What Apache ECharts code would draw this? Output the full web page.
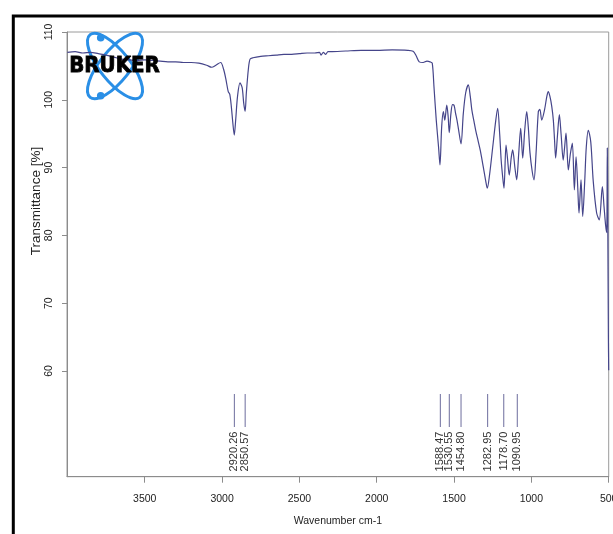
<!DOCTYPE html>
<html>
<head>
<meta charset="utf-8">
<script src="https://cdn.jsdelivr.net/npm/echarts@6/dist/echarts.min.js"></script>
<style>
  html, body { margin: 0; padding: 0; background: #fff; }
  #chart { width: 613px; height: 534px; }
</style>
</head>
<body>
<div id="chart"></div>
<script>
// FT-IR spectrum: wavenumber (cm-1) vs transmittance (%)
const wavenumber = [
  4000, 3950, 3900, 3850, 3800, 3750, 3700, 3650, 3600, 3550, 3500, 3450, 3400, 3350, 3300, 3250, 3200,
  3150, 3100, 3067, 3040, 3009, 2990, 2975, 2960, 2950, 2940, 2930, 2921, 2912, 2900, 2884, 2870, 2860,
  2851, 2843, 2830, 2819, 2800, 2750, 2700, 2650, 2600, 2550, 2500, 2450, 2400, 2370, 2360, 2345, 2330,
  2315, 2300, 2200, 2100, 2000, 1900, 1800, 1765, 1745, 1725, 1700, 1675, 1655, 1641, 1630, 1615, 1600,
  1591, 1580, 1569, 1560, 1547, 1538, 1531, 1520, 1510, 1500, 1490, 1481, 1470, 1455, 1440, 1425, 1408,
  1395, 1385, 1371, 1360, 1343, 1330, 1311, 1295, 1285, 1270, 1250, 1230, 1218, 1205, 1195, 1185, 1177,
  1164, 1155, 1143, 1130, 1121, 1106, 1095, 1082, 1069, 1056, 1043, 1030, 1020, 1009, 995, 983, 970,
  955, 945, 933, 915, 900, 891, 880, 868, 858, 850, 843, 832, 819, 808, 794, 785, 776, 761, 748, 735,
  722, 711, 700, 692, 679, 668, 655, 645, 632, 616, 600, 578, 561, 541, 530, 520, 513, 509, 505, 502, 500
];
const transmittance = [
  107.0, 107.1, 106.9, 107.0, 106.8, 106.6, 106.3, 106.0, 105.9, 105.8, 105.9, 105.8, 105.7, 105.6, 105.6, 105.5, 105.5,
  105.4, 105.1, 104.8, 105.1, 105.5, 104.5, 103.0, 101.2, 100.8, 99.0, 96.5, 94.8, 97.0, 100.5, 102.5, 101.8, 99.5,
  98.3, 101.0, 104.5, 106.0, 106.2, 106.4, 106.5, 106.6, 106.7, 106.7, 106.8, 106.9, 106.9, 107.0, 106.6, 107.0, 106.7,
  107.1, 107.1, 107.2, 107.3, 107.3, 107.35, 107.3, 107.15, 106.5, 105.6, 105.5, 105.7, 105.6, 105.4, 102.0, 97.0, 93.0,
  90.4, 96.0, 98.25, 97.0, 99.2, 97.5, 95.15, 98.0, 99.3, 99.2, 98.0, 97.0, 95.5, 93.5, 98.0, 101.0, 102.2,
  100.5, 98.5, 96.8, 95.5, 93.8, 92.5, 90.1, 88.0, 86.95, 89.0, 93.0, 97.0, 98.75, 95.0, 91.0, 88.5, 86.95,
  93.3, 91.5, 88.9, 91.5, 92.6, 89.9, 88.2, 92.0, 95.8, 91.4, 95.5, 98.25, 96.0, 92.2, 89.5, 88.2, 92.0,
  98.25, 98.6, 97.0, 98.5, 100.5, 101.2, 100.5, 99.0, 97.0, 94.0, 91.4, 94.5, 97.8, 95.0, 91.1, 93.0, 95.1, 89.65, 92.0, 93.6,
  86.7, 91.6, 87.0, 83.3, 88.2, 82.8, 88.0, 93.0, 95.5, 93.8, 88.0, 83.3, 82.3, 87.2, 84.2, 81.5, 80.4, 92.9, 78.0, 65.0, 60.1
];

// Picked peak positions (cm-1)
const peakPositions = [2920.26, 2850.57, 1588.47, 1530.55, 1454.80, 1282.95, 1178.70, 1090.95];
const peakLabels = ['2920.26', '2850.57', '1588.47', '1530.55', '1454.80', '1282.95', '1178.70', '1090.95'];

// Axis ticks
const xTicks = [500, 1000, 1500, 2000, 2500, 3000, 3500];
const yTicks = [60, 70, 80, 90, 100, 110];

const spectrum = wavenumber.map((w, i) => [w, transmittance[i]]);

const chart = echarts.init(document.getElementById('chart'), null, { renderer: 'canvas' });

const axisGray = '#8c8c8c';
const font = 'Liberation Sans, Arial, sans-serif';

chart.setOption({
  animation: false,
  backgroundColor: '#fff',
  grid: {
    left: 67, right: 4.3, top: 32, bottom: 57.3,
    containLabel: false,
    outerBoundsMode: 'none',
    show: true, borderColor: '#9a9a9a', borderWidth: 1
  },
  xAxis: {
    type: 'value',
    inverse: true,
    min: 500,
    max: 4002.6,
    name: 'Wavenumber cm-1',
    nameLocation: 'middle',
    nameGap: 39,
    nameTextStyle: { fontFamily: font, fontSize: 10.5, color: '#222' },
    axisLine: { lineStyle: { color: axisGray, width: 1 } },
    axisTick: { customValues: xTicks, length: 6, lineStyle: { color: axisGray } },
    axisLabel: {
      customValues: xTicks, margin: 17, fontFamily: font, fontSize: 10.5, color: '#222',
      formatter: v => String(v)
    },
    splitLine: { show: false }
  },
  yAxis: {
    type: 'value',
    min: 44.4,
    max: 110,
    axisLine: { show: true, lineStyle: { color: axisGray, width: 1 } },
    axisTick: { show: true, customValues: yTicks, length: 5, lineStyle: { color: axisGray } },
    axisLabel: {
      customValues: yTicks, rotate: 90, margin: 12, fontFamily: font, fontSize: 10.5, color: '#222',
      formatter: v => String(v)
    },
    splitLine: { show: false }
  },
  series: [
    {
      type: 'line',
      data: spectrum,
      showSymbol: false,
      smooth: 0.3,
      lineStyle: { color: '#45458a', width: 1.2 },
      z: 2
    },
    {
      type: 'custom',
      data: peakPositions.map((p, i) => [p, i]),
      renderItem: function (params, api) {
        const w = api.value(0);
        const idx = api.value(1);
        const top = api.coord([w, 56.6]);
        const bot = api.coord([w, 51.74]);
        const lab = api.coord([w, 51.05]);
        return {
          type: 'group',
          children: [
            {
              type: 'line',
              shape: { x1: top[0], y1: top[1], x2: bot[0], y2: bot[1] },
              style: { stroke: '#7a7aa6', lineWidth: 1.1 }
            },
            {
              type: 'text',
              x: lab[0], y: lab[1],
              rotation: Math.PI / 2,
              style: {
                text: peakLabels[idx],
                align: 'right', verticalAlign: 'middle',
                font: '11px ' + font,
                fill: '#333'
              }
            }
          ]
        };
      },
      z: 3
    }
  ],
  graphic: [
    // outer black frame
    {
      type: 'rect', z: 50,
      shape: { x: 13.3, y: 16, width: 640, height: 560 },
      style: { fill: 'none', stroke: '#000', lineWidth: 3 }
    },
    // y axis title
    {
      type: 'text', z: 50,
      x: 36.7, y: 201,
      rotation: Math.PI / 2,
      style: {
        text: 'Transmittance [%]',
        align: 'center', verticalAlign: 'middle',
        font: '13.5px ' + font, fill: '#222'
      }
    },
    // logo: two crossing orbits, two dots and the wordmark
    {
      type: 'group', z: 60, x: 115, y: 66, rotation: 0.9,
      children: [{ type: 'ellipse', shape: { cx: 0, cy: 0, rx: 40, ry: 15 }, style: { fill: 'none', stroke: '#2a8fe6', lineWidth: 3 } }]
    },
    {
      type: 'group', z: 60, x: 115, y: 66, rotation: -0.9,
      children: [{ type: 'ellipse', shape: { cx: 0, cy: 0, rx: 40, ry: 15 }, style: { fill: 'none', stroke: '#2a8fe6', lineWidth: 3 } }]
    },
    { type: 'circle', z: 61, shape: { cx: 100.7, cy: 37.7, r: 3.8 }, style: { fill: '#2a8fe6' } },
    { type: 'circle', z: 61, shape: { cx: 100.7, cy: 95.7, r: 3.8 }, style: { fill: '#2a8fe6' } },
    {
      type: 'text', z: 62, x: 114.5, y: 66,
      style: {
        text: 'BRUKER', align: 'center', verticalAlign: 'middle',
        font: 'bold 22px "DejaVu Sans Condensed", "DejaVu Sans", sans-serif', fill: '#000',
        stroke: '#000', lineWidth: 0.8
      }
    }
  ]
});
</script>
</body>
</html>
